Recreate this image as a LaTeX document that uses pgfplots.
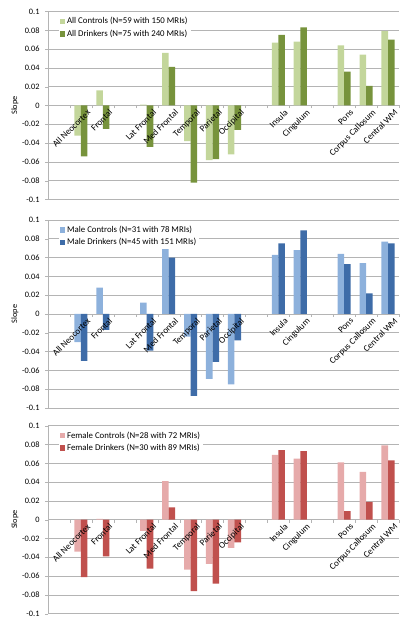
\documentclass[border=0pt]{standalone}
\usepackage{pgfplots}
\usepackage{pgfplotstable}
\pgfplotsset{compat=1.18}
\usepackage{fontspec}
\setmainfont{Carlito}

\definecolor{gL}{RGB}{195,214,155}
\definecolor{gD}{RGB}{119,147,60}
\definecolor{bL}{RGB}{141,177,220}
\definecolor{bD}{RGB}{62,108,168}
\definecolor{rL}{RGB}{230,170,170}
\definecolor{rD}{RGB}{192,80,77}
\definecolor{gridc}{RGB}{180,180,180}

\pgfplotstableread{
x c d
1 -0.032 -0.054
2 0.016 -0.025
4 0.001 -0.044
5 0.056 0.041
6 -0.038 -0.082
7 -0.058 -0.057
8 -0.052 -0.026
10 0.067 0.075
11 0.068 0.083
13 0.064 0.036
14 0.054 0.021
15 0.079 0.070
}\tAll

\pgfplotstableread{
x c d
1 -0.030 -0.050
2 0.028 -0.017
4 0.012 -0.039
5 0.069 0.060
6 -0.024 -0.087
7 -0.069 -0.051
8 -0.075 -0.028
10 0.063 0.075
11 0.068 0.089
13 0.064 0.053
14 0.054 0.022
15 0.077 0.075
}\tMale

\pgfplotstableread{
x c d
1 -0.034 -0.061
2 0.001 -0.039
4 -0.012 -0.052
5 0.041 0.013
6 -0.053 -0.076
7 -0.047 -0.068
8 -0.030 -0.024
10 0.069 0.074
11 0.065 0.073
13 0.061 0.009
14 0.051 0.019
15 0.079 0.063
}\tFemale

\pgfplotsset{
  sqlegend/.style={legend image code/.code={\fill[##1] (0pt,-2.7pt) rectangle (5.4pt,2.7pt);}},
  geom/.style={
    scale only axis, width=351pt, height=188pt,
    anchor=south west,
    xmin=-0.5, xmax=15.5, ymin=-0.1, ymax=0.1,
    axis x line=middle, axis y line=left,
    hide obscured x ticks=false, hide obscured y ticks=false,
    ytick={-0.1,-0.08,-0.06,-0.04,-0.02,0,0.02,0.04,0.06,0.08,0.1},
    xtick={1,2,4,5,6,7,8,10,11,13,14,15},
    tick align=outside, major tick length=3pt, minor tick length=3pt,
  },
  panel/.style={
    geom,
    axis line style={draw=gridc, -},
    /pgf/number format/fixed, /pgf/number format/precision=2,
    /pgf/number format/assume math mode=true,
    yticklabel style={font=\fontsize{8.3}{9}\selectfont, xshift=-2pt},
    ymajorgrids, grid style={draw=gridc, line width=0.6pt},
    xticklabels={},
    major x tick style={draw=none},
    minor xtick={-0.5,0.5,...,15.5},
    minor x tick style={draw=gridc},
    y tick style={draw=gridc},
    ylabel={Slope}, ylabel style={font=\fontsize{8.3}{9}\selectfont, xshift=0pt, yshift=-3pt},
    legend style={at={(0.03,0.985)}, anchor=north west, draw=none, fill=white,
      font=\fontsize{8.8}{10}\selectfont, inner sep=1pt, row sep=0.5pt},
    legend cell align=left,
  },
  labelsonly/.style={
    geom,
    axis line style={draw=none, -},
    tick style={draw=none},
    yticklabels={},
    xticklabels={All Neocortex, Frontal, Lat Frontal, Med Frontal, Temporal, Parietal, Occipital, Insula, Cingulum, Pons, Corpus Callosum, Central WM},
    xticklabel style={rotate=45, anchor=north east, font=\fontsize{9}{10}\selectfont, inner sep=1pt, xshift=5pt, yshift=-3pt},
  },
}

\begin{document}
\begin{tikzpicture}
\useasboundingbox (0pt,0pt) rectangle (407pt,626pt);
% Panel 1
\begin{axis}[panel, at={(48pt,426.5pt)}]
\addplot[ybar, bar width=0.3, bar shift=-0.15, fill=gL, draw=none, sqlegend] table[x=x,y=c]{\tAll};
\addplot[ybar, bar width=0.3, bar shift=0.15, fill=gD, draw=none, sqlegend] table[x=x,y=d]{\tAll};
\legend{All Controls (N=59 with 150 MRIs), All Drinkers (N=75 with 240 MRIs)}
\end{axis}
\begin{axis}[labelsonly, at={(48pt,426.5pt)}]
\end{axis}
% Panel 2
\begin{axis}[panel, at={(48pt,218pt)}]
\addplot[ybar, bar width=0.3, bar shift=-0.15, fill=bL, draw=none, sqlegend] table[x=x,y=c]{\tMale};
\addplot[ybar, bar width=0.3, bar shift=0.15, fill=bD, draw=none, sqlegend] table[x=x,y=d]{\tMale};
\legend{Male Controls (N=31 with 78 MRIs), Male Drinkers (N=45 with 151 MRIs)}
\end{axis}
\begin{axis}[labelsonly, at={(48pt,218pt)}]
\end{axis}
% Panel 3
\begin{axis}[panel, at={(48pt,12.3pt)}]
\addplot[ybar, bar width=0.3, bar shift=-0.15, fill=rL, draw=none, sqlegend] table[x=x,y=c]{\tFemale};
\addplot[ybar, bar width=0.3, bar shift=0.15, fill=rD, draw=none, sqlegend] table[x=x,y=d]{\tFemale};
\legend{Female Controls (N=28 with 72 MRIs), Female Drinkers (N=30 with 89 MRIs)}
\end{axis}
\begin{axis}[labelsonly, at={(48pt,12.3pt)}]
\end{axis}
\end{tikzpicture}
\end{document}
